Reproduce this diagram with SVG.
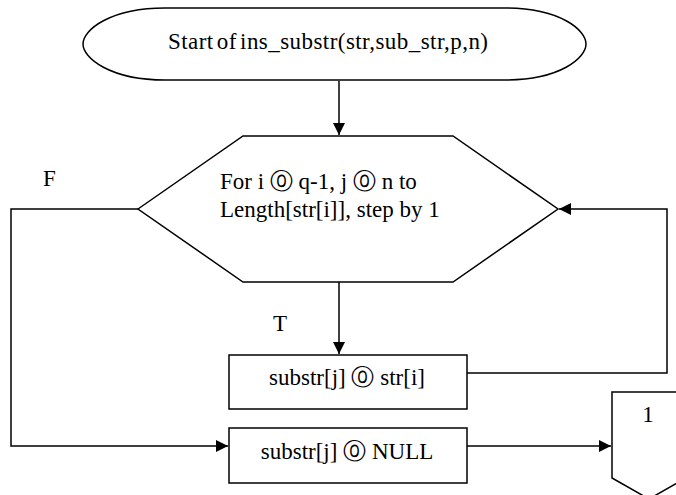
<svg xmlns="http://www.w3.org/2000/svg" width="676" height="495" viewBox="0 0 676 495">
<style>
.s{fill:#fff;stroke:#000;stroke-width:1.5}
.c{fill:none;stroke:#000;stroke-width:1.5}
text{font-family:"Liberation Serif","Times New Roman",serif;font-size:23px;fill:#000}
</style>
<defs>
<marker id="ah" viewBox="0 0 10 10" refX="10" refY="5" markerWidth="13" markerHeight="12" markerUnits="userSpaceOnUse" orient="auto">
<path d="M0,0 L10,5 L0,10 Z" fill="#000"/>
</marker>
</defs>
<rect width="676" height="495" fill="#fff"/>
<g id="connectors">
<line class="c" x1="339" y1="81" x2="339" y2="135" marker-end="url(#ah)"/>
<line class="c" x1="339" y1="282" x2="339" y2="354" marker-end="url(#ah)"/>
<polyline class="c" points="467,373 667,373 667,209 559,209" marker-end="url(#ah)"/>
<polyline class="c" points="138,209 11,209 11,446 228,446" marker-end="url(#ah)"/>
<line class="c" x1="467" y1="446" x2="611" y2="446" marker-end="url(#ah)"/>
<text x="43" y="186">F</text>
<text x="273" y="331">T</text>
</g>
<g id="start">
<path class="s" d="M165 8 H505 C560 8 586 30 586 44 C586 58 560 80 505 80 H165 C110 80 83 58 83 44 C83 30 110 8 165 8 Z"/>
<text x="168" y="49" word-spacing="-3" textLength="320" lengthAdjust="spacing">Start of ins_substr(str,sub_str,p,n)</text>
</g>
<g id="loop">
<polygon class="s" points="138,209 243,136 453,136 558,209 453,282 243,282"/>
<text x="220" y="189">For i ⓪ q-1, j ⓪ n to</text>
<text x="220" y="217">Length[str[i]], step by 1</text>
</g>
<g id="assign">
<rect class="s" x="229" y="355" width="238" height="54"/>
<text x="347" y="385" text-anchor="middle">substr[j] ⓪ str[i]</text>
</g>
<g id="terminate">
<rect class="s" x="229" y="428" width="238" height="55"/>
<text x="347" y="459" text-anchor="middle">substr[j] ⓪ NULL</text>
</g>
<g id="offpage">
<polygon class="s" points="612,392 686,392 686,478 649,499 612,478"/>
<text x="648" y="422" text-anchor="middle">1</text>
</g>
</svg>
